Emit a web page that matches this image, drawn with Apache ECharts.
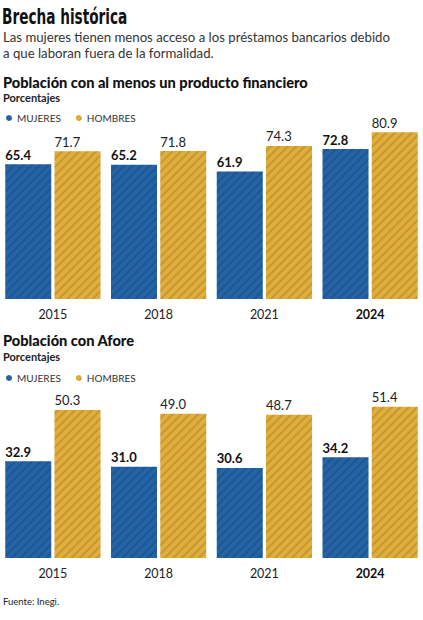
<!DOCTYPE html>
<html><head><meta charset="utf-8">
<script src="https://cdn.jsdelivr.net/npm/echarts@6/dist/echarts.min.js"></script>
<style>html,body{margin:0;padding:0;background:#fff}#c{width:423px;height:620px}</style>
</head><body><div id="c"></div>
<script>
const years = ['2015','2018','2021','2024'];
const producto_mujeres = [65.4, 65.2, 61.9, 72.8];
const producto_hombres = [71.7, 71.8, 74.3, 80.9];
const afore_mujeres = [32.9, 31.0, 30.6, 34.2];
const afore_hombres = [50.3, 49.0, 48.7, 51.4];
const legendNames = ['MUJERES','HOMBRES'];

const BLUE = '#2463a6', GOLD = '#e2ae3b';
const F = 'Lato, "Open Sans", sans-serif';
const decal = {symbol:'rect', symbolSize:1, dashArrayX:[1,0], dashArrayY:[1.2,3.8], rotation:-Math.PI/4, color:'rgba(0,0,0,0.13)'};

function lbl(bold){
  return {show:true, position:[0,-3], align:'left', verticalAlign:'bottom',
    fontFamily:F, fontSize:13, fontWeight: bold?'bold':'normal', color: bold?'#111':'#222',
    formatter: p => p.value.toFixed(1)};
}
function bar(name, data, color, g, bold){
  return {name, type:'bar', xAxisIndex:g, yAxisIndex:g, data, barWidth:46, barGap:'7%',
    itemStyle:{color, decal}, label:lbl(bold), silent:true};
}
function xa(g){
  return {type:'category', gridIndex:g, data:years, axisLine:{show:false}, axisTick:{show:false},
    axisLabel:{margin:9, fontFamily:F, fontSize:12.5, color:'#222',
      formatter: v => v==='2024' ? '{b|'+v+'}' : v, rich:{b:{fontWeight:'bold', fontFamily:F, fontSize:12.5, color:'#111'}}}};
}
function ya(g,max){ return {type:'value', gridIndex:g, min:0, max, show:false, splitLine:{show:false}}; }
function txt(x,y,t,size,weight,color,extra){
  return Object.assign({type:'text', left:x, top:y, style:{text:t, font:weight+' '+size+'px '+F, fill:color}}, extra||{});
}
function leg(top){
  return {data:legendNames, left:1, top, icon:'circle', itemWidth:6, itemHeight:6, itemGap:15,
    textStyle:{fontFamily:F, fontSize:10, color:'#333'}, selectedMode:false};
}

const chart = echarts.init(document.getElementById('c'), null, {renderer:'svg'});
chart.setOption({
  animation:false,
  aria:{decal:{show:false}},
  grid:[{left:-7, right:-7, top:93, height:206}, {left:-7, right:-7, top:352, height:206}],
  xAxis:[xa(0), xa(1)],
  yAxis:[ya(0,100), ya(1,70)],
  legend:[leg(108), leg(368)],
  series:[
    bar('MUJERES', producto_mujeres, BLUE, 0, true),
    bar('HOMBRES', producto_hombres, GOLD, 0, false),
    bar('MUJERES', afore_mujeres, BLUE, 1, true),
    bar('HOMBRES', afore_hombres, GOLD, 1, false)
  ],
  graphic:[
    {type:'text', left:2, top:5, scaleX:0.69, style:{text:'Brecha histórica', font:'bold 22px "Liberation Sans Narrow", "DejaVu Sans Condensed", sans-serif', fill:'#111'}},
    txt(3, 30, 'Las mujeres tienen menos acceso a los préstamos bancarios debido', 13.2, 'normal', '#333'),
    txt(3, 46, 'a que laboran fuera de la formalidad.', 13.2, 'normal', '#333'),
    txt(3, 75, 'Población con al menos un producto financiero', 14.6, '900', '#111'),
    txt(3, 92, 'Porcentajes', 11, 'bold', '#222'),
    txt(3, 333, 'Población con Afore', 14.6, '900', '#111'),
    txt(3, 351, 'Porcentajes', 11, 'bold', '#222'),
    txt(3, 596, 'Fuente: Inegi.', 9.5, 'normal', '#222')
  ]
});
</script></body></html>
